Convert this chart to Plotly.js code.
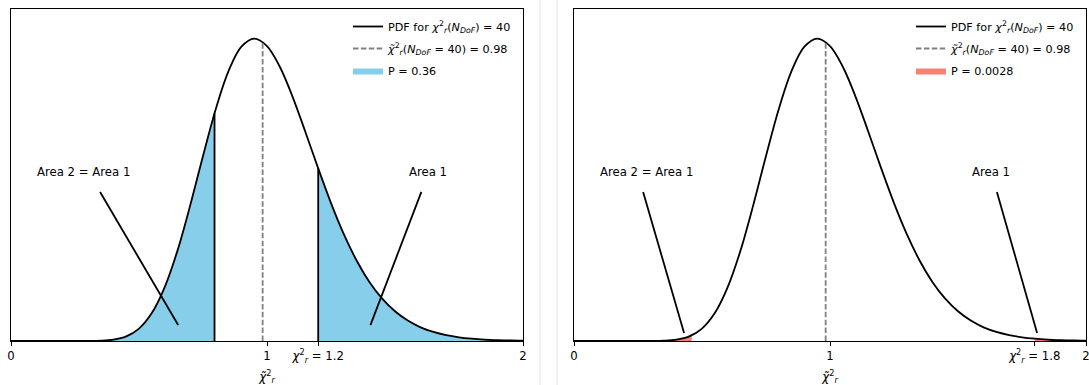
<!DOCTYPE html>
<html>
<head>
<meta charset="utf-8">
<script src="https://cdn.plot.ly/plotly-3.0.1.min.js"></script>
<style>html,body{margin:0;padding:0;background:#fff}#chart{width:1089px;height:385px}</style>
</head>
<body>
<div id="chart"></div>
<script>
// ---- data ----
const xGrid = [0,0.05,0.1,0.15,0.2,0.25,0.3,0.35,0.4,0.45,0.5,0.55,0.6,0.65,0.7,0.75,0.8,0.85,0.9,0.95,1.0,1.05,1.1,1.15,1.2,1.25,1.3,1.35,1.4,1.45,1.5,1.55,1.6,1.65,1.7,1.75,1.8,1.85,1.9,1.95,2.0];
const pdfValues = [0,0,0,0.00000001,0.0000008,0.000021,0.00025,0.0017,0.0079,0.0274,0.0746,0.168,0.323,0.543,0.817,1.115,1.398,1.627,1.773,1.822,1.777,1.652,1.471,1.259,1.040,0.831,0.644,0.485,0.356,0.255,0.179,0.123,0.0825,0.0545,0.0353,0.0225,0.0142,0.0088,0.0054,0.0032,0.0019];

const medianX = 0.983;      // median of reduced chi-square (N=40)
const medianPdf = 1.802;

// left panel: chi2_r = 1.2, P = 0.36
const leftLo = 0.795, leftLoPdf = 1.372;
const leftHi = 1.2,   leftHiPdf = 1.040;
// right panel: chi2_r = 1.8, P = 0.0028
const rightLo = 0.46, rightLoPdf = 0.0341;
const rightHi = 1.8,  rightHiPdf = 0.0142;

const tickVals = [0, 1, 2];
const tickLabels = ["0", "1", "2"];

const pdfLabel = "PDF for <i>χ</i><sup>2</sup><sub><i>r</i></sub>(<i>N</i><sub><i>DoF</i></sub>) = 40";
const medLabel = "<i>χ̃</i><sup>2</sup><sub><i>r</i></sub>(<i>N</i><sub><i>DoF</i></sub> = 40) = 0.98";
const leftP = "P = 0.36", rightP = "P = 0.0028";

// annotation pointer lines (text pos, line start, line end)  [x, y]
const annLeft = [
  {text:"Area 2 = Area 1", t:[0.285,1.018], a:[0.348,0.898], b:[0.653,0.096]},
  {text:"Area 1",          t:[1.630,1.018], a:[1.603,0.898], b:[1.404,0.096]}
];
const annRight = [
  {text:"Area 2 = Area 1", t:[0.285,1.018], a:[0.270,0.898], b:[0.430,0.048]},
  {text:"Area 1",          t:[1.629,1.018], a:[1.652,0.898], b:[1.809,0.048]}
];

// ---- build ----
function tailLow(lo, loPdf){
  const xs=[], ys=[];
  xGrid.forEach((x,i)=>{ if(x<lo){xs.push(x);ys.push(pdfValues[i]);} });
  xs.push(lo); ys.push(loPdf);
  return [xs,ys];
}
function tailHigh(hi, hiPdf){
  const xs=[hi], ys=[hiPdf];
  xGrid.forEach((x,i)=>{ if(x>hi){xs.push(x);ys.push(pdfValues[i]);} });
  return [xs,ys];
}

const LW = 1.8;
function panelTraces(xa, ya, leg, lo, loPdf, hi, hiPdf, color, pText, vlines){
  const [lx,ly] = tailLow(lo,loPdf);
  const [hx,hy] = tailHigh(hi,hiPdf);
  const t = [];
  t.push({x:lx,y:ly,xaxis:xa,yaxis:ya,type:'scatter',mode:'lines',fill:'tozeroy',fillcolor:color,
          line:{width:0,shape:'spline',color:color},name:pText,legend:leg,legendrank:3,legendgroup:leg+'p',hoverinfo:'skip'});
  t.push({x:hx,y:hy,xaxis:xa,yaxis:ya,type:'scatter',mode:'lines',fill:'tozeroy',fillcolor:color,
          line:{width:0,shape:'spline',color:color},showlegend:false,legendrank:3,legendgroup:leg+'p',hoverinfo:'skip'});
  t.push({x:xGrid,y:pdfValues,xaxis:xa,yaxis:ya,type:'scatter',mode:'lines',
          line:{color:'black',width:LW,shape:'spline'},name:pdfLabel,legend:leg,legendrank:1,legendgroup:leg+'c'});
  t.push({x:[medianX,medianX],y:[0,medianPdf],xaxis:xa,yaxis:ya,type:'scatter',mode:'lines',
          line:{color:'grey',width:LW,dash:'5.5px,2.4px'},name:medLabel,legend:leg,legendrank:2,legendgroup:leg+'m'});
  if(vlines){
    t.push({x:[lo,lo],y:[0,loPdf],xaxis:xa,yaxis:ya,type:'scatter',mode:'lines',line:{color:'black',width:LW},showlegend:false,legendrank:4,legendgroup:leg+'v'});
    t.push({x:[hi,hi],y:[0,hiPdf],xaxis:xa,yaxis:ya,type:'scatter',mode:'lines',line:{color:'black',width:LW},showlegend:false,legendrank:4,legendgroup:leg+'v'});
  }
  return t;
}

const data = [
  ...panelTraces('x','y','legend',leftLo,leftLoPdf,leftHi,leftHiPdf,'#87CEEB',leftP,true),
  ...panelTraces('x2','y2','legend2',rightLo,rightLoPdf,rightHi,rightHiPdf,'#FA8072',rightP,false)
];

const font = {family:'DejaVu Sans, sans-serif', size:11.7, color:'black'};
const legFont = {family:'DejaVu Sans, sans-serif', size:11.2, color:'black'};
const yTop = 1-9/385, yBot = 1-341/385;

function xaxisDef(domain, thr){
  return {domain:domain, range:[0,2], showgrid:false, zeroline:false,
    showline:true, mirror:true, linecolor:'black', linewidth:1.2,
    ticks:'outside', ticklen:4, tickwidth:1, tickcolor:'black',
    tickvals:[...tickVals, thr],
    ticktext:[...tickLabels, "<i>χ</i><sup>2</sup><sub><i>r</i></sub> = "+thr],
    tickfont:font, fixedrange:true, ticklabeloverflow:'allow',
    title:{text:"<i>χ̃</i><sup>2</sup><sub><i>r</i></sub>", font:font, standoff:12}};
}
function yaxisDef(){
  return {domain:[yBot,yTop], range:[0,2], showgrid:false, zeroline:false, showline:true, mirror:true,
    linecolor:'black', linewidth:1.2, ticks:'', showticklabels:false, fixedrange:true};
}

const xa1 = xaxisDef([11/1089, 523/1089], leftHi); xa1.anchor='y';
const xa2 = xaxisDef([574/1089, 1086/1089], rightHi); xa2.anchor='y2';
const ya1 = yaxisDef(); ya1.anchor='x';
const ya2 = yaxisDef(); ya2.anchor='x2';

const shapes = [
  {type:'line',xref:'paper',yref:'paper',x0:540/1089,x1:540/1089,y0:0,y1:1,line:{color:'#e3e3e3',width:1}},
  {type:'line',xref:'paper',yref:'paper',x0:557/1089,x1:557/1089,y0:0,y1:1,line:{color:'#e3e3e3',width:1}}
];
const annotations = [];
[[annLeft,'x','y'],[annRight,'x2','y2']].forEach(([list,xr,yr])=>{
  list.forEach(a=>{
    shapes.push({type:'line',xref:xr,yref:yr,x0:a.a[0],y0:a.a[1],x1:a.b[0],y1:a.b[1],line:{color:'black',width:LW}});
    annotations.push({xref:xr,yref:yr,x:a.t[0],y:a.t[1],text:a.text,showarrow:false,font:font,xanchor:'center',yanchor:'middle'});
  });
});

const legendBase = {yanchor:'top',xanchor:'left',bgcolor:'rgba(0,0,0,0)',borderwidth:0,font:legFont,
  tracegroupgap:3, itemwidth:30, traceorder:'grouped'};

const layout = {
  width:1089, height:385, margin:{l:0,r:0,t:0,b:0},
  paper_bgcolor:'white', plot_bgcolor:'white', font:font, showlegend:true,
  xaxis:xa1, yaxis:ya1, xaxis2:xa2, yaxis2:ya2,
  legend:Object.assign({}, legendBase, {x:348/1089, y:1-12/385}),
  legend2:Object.assign({}, legendBase, {x:911/1089, y:1-12/385}),
  shapes:shapes, annotations:annotations
};

Plotly.newPlot('chart', data, layout, {displayModeBar:false, staticPlot:true});
</script>
</body>
</html>
